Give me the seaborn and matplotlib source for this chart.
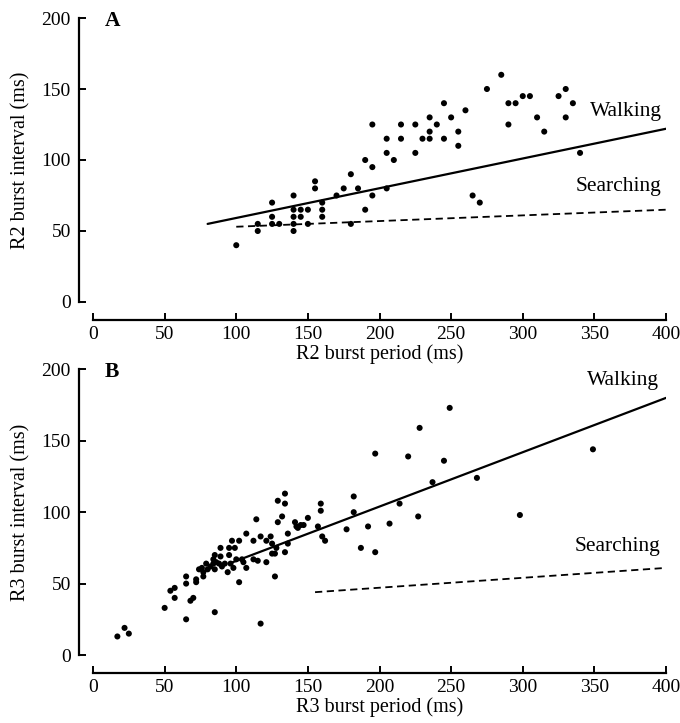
import numpy as np
import pandas as pd
import matplotlib
matplotlib.use("Agg")
import matplotlib.pyplot as plt
import seaborn as sns

# Panel A: R2 burst period vs R2 burst interval
r2_period = [100, 115, 115, 125, 125, 125, 130, 140, 140, 140, 140, 140,
             145, 145, 150, 150, 155, 155, 160, 160, 160, 170, 175, 180,
             180, 185, 190, 190, 195, 195, 195, 205, 205, 205, 210, 215,
             215, 225, 225, 230, 235, 235, 235, 240, 245, 245, 250, 255,
             255, 260, 265, 270, 275, 285, 290, 290, 295, 300, 305, 310,
             315, 325, 330, 330, 335, 340]
r2_interval = [40, 50, 55, 70, 60, 55, 55, 75, 65, 60, 55, 50,
               65, 60, 65, 55, 85, 80, 70, 65, 60, 75, 80, 55,
               90, 80, 65, 100, 95, 75, 125, 115, 105, 80, 100, 115,
               125, 125, 105, 115, 120, 115, 130, 125, 115, 140, 130, 120,
               110, 135, 75, 70, 150, 160, 125, 140, 140, 145, 145, 130,
               120, 145, 150, 130, 140, 105]

# Panel B: R3 burst period vs R3 burst interval
r3_period = [17, 22, 25, 50, 54, 57, 57, 65, 65, 65, 68, 70, 72, 72, 74,
             76, 77, 77, 79, 80, 82, 84, 84, 85, 85, 85, 86, 88, 89, 89,
             90, 92, 94, 95, 95, 96, 97, 98, 99, 100, 102, 102, 104, 105,
             107, 107, 112, 112, 114, 115, 117, 117, 121, 121, 124, 125,
             125, 127, 127, 128, 129, 129, 132, 134, 134, 134, 136, 136,
             141, 142, 143, 145, 147, 150, 157, 159, 159, 160, 162, 177,
             182, 182, 187, 192, 197, 197, 207, 214, 220, 227, 228, 237,
             245, 249, 268, 298, 349]
r3_interval = [13, 19, 15, 33, 45, 47, 40, 25, 50, 55, 38, 40, 51, 53, 60,
               61, 55, 58, 64, 60, 62, 64, 67, 70, 60, 30, 65, 64, 69, 75,
               62, 64, 58, 70, 75, 64, 80, 61, 75, 67, 80, 51, 67, 65,
               61, 85, 67, 80, 95, 66, 83, 22, 65, 80, 83, 78,
               71, 71, 55, 75, 93, 108, 97, 113, 106, 72, 85, 78,
               93, 90, 89, 91, 91, 96, 90, 106, 101, 83, 80, 88,
               111, 100, 75, 90, 141, 72, 92, 106, 139, 97, 159, 121,
               136, 173, 124, 98, 144]

# Regression lines (endpoints) for walking and searching
a_walk_x, a_walk_y = [80, 400], [55, 122]
a_search_x, a_search_y = [100, 400], [53, 65]
b_walk_x, b_walk_y = [95, 400], [64, 180]
b_search_x, b_search_y = [155, 400], [44, 61]

x_ticks = [0, 50, 100, 150, 200, 250, 300, 350, 400]
y_ticks = [0, 50, 100, 150, 200]

sns.set_theme(style="ticks")
plt.rcParams["font.family"] = ["Liberation Serif", "DejaVu Serif"]

fig = plt.figure(figsize=(6.8, 7.23), dpi=100)
ax_a = fig.add_axes([0.1368, 0.5823, 0.8426, 0.3928])
ax_b = fig.add_axes([0.1368, 0.0940, 0.8426, 0.3952])


def draw_panel(ax, px, py, wx, wy, sx, sy, letter, xlabel, ylabel,
               walk_pos, search_pos):
    df = pd.DataFrame({"period": px, "interval": py})
    sns.scatterplot(data=df, x="period", y="interval", ax=ax, color="black",
                    s=19, edgecolor="none", linewidth=0, legend=False)
    sns.lineplot(x=wx, y=wy, ax=ax, color="black", linewidth=1.6,
                 legend=False)
    sns.lineplot(x=sx, y=sy, ax=ax, color="black", linewidth=1.3,
                 linestyle=(0, (4, 2.5)), legend=False)
    ax.set_xlim(0, 400)
    ax.set_ylim(0, 200)
    ax.set_xticks(x_ticks)
    ax.set_yticks(y_ticks)
    ax.tick_params(direction="in", length=5, width=1.4, labelsize=14,
                   colors="black", pad=6)
    ax.tick_params(axis="x", pad=4)
    sns.despine(ax=ax)
    ax.spines["left"].set_position(("outward", 10))
    ax.spines["bottom"].set_position(("outward", 13))
    for sp in ("left", "bottom"):
        ax.spines[sp].set_linewidth(1.6)
        ax.spines[sp].set_color("black")
    ax.spines["left"].set_bounds(0, 200)
    ax.spines["bottom"].set_bounds(0, 400)
    ax.set_xlabel(xlabel, fontsize=14.5, labelpad=1, color="black")
    ax.set_ylabel(ylabel, fontsize=14.5, labelpad=8, color="black")
    ax.text(8, 198, letter, fontsize=15.5, fontweight="bold",
            va="center", ha="left", color="black")
    ax.text(walk_pos[0], walk_pos[1], "Walking", fontsize=15.5,
            ha="right", va="center", color="black")
    ax.text(search_pos[0], search_pos[1], "Searching", fontsize=15.5,
            ha="right", va="center", color="black")


draw_panel(ax_a, r2_period, r2_interval, a_walk_x, a_walk_y,
           a_search_x, a_search_y, "A", "R2 burst period (ms)",
           "R2 burst interval (ms)", (397, 134), (397, 81))
draw_panel(ax_b, r3_period, r3_interval, b_walk_x, b_walk_y,
           b_search_x, b_search_y, "B", "R3 burst period (ms)",
           "R3 burst interval (ms)", (395, 192), (396, 76))

fig.savefig("out.png", dpi=100)
